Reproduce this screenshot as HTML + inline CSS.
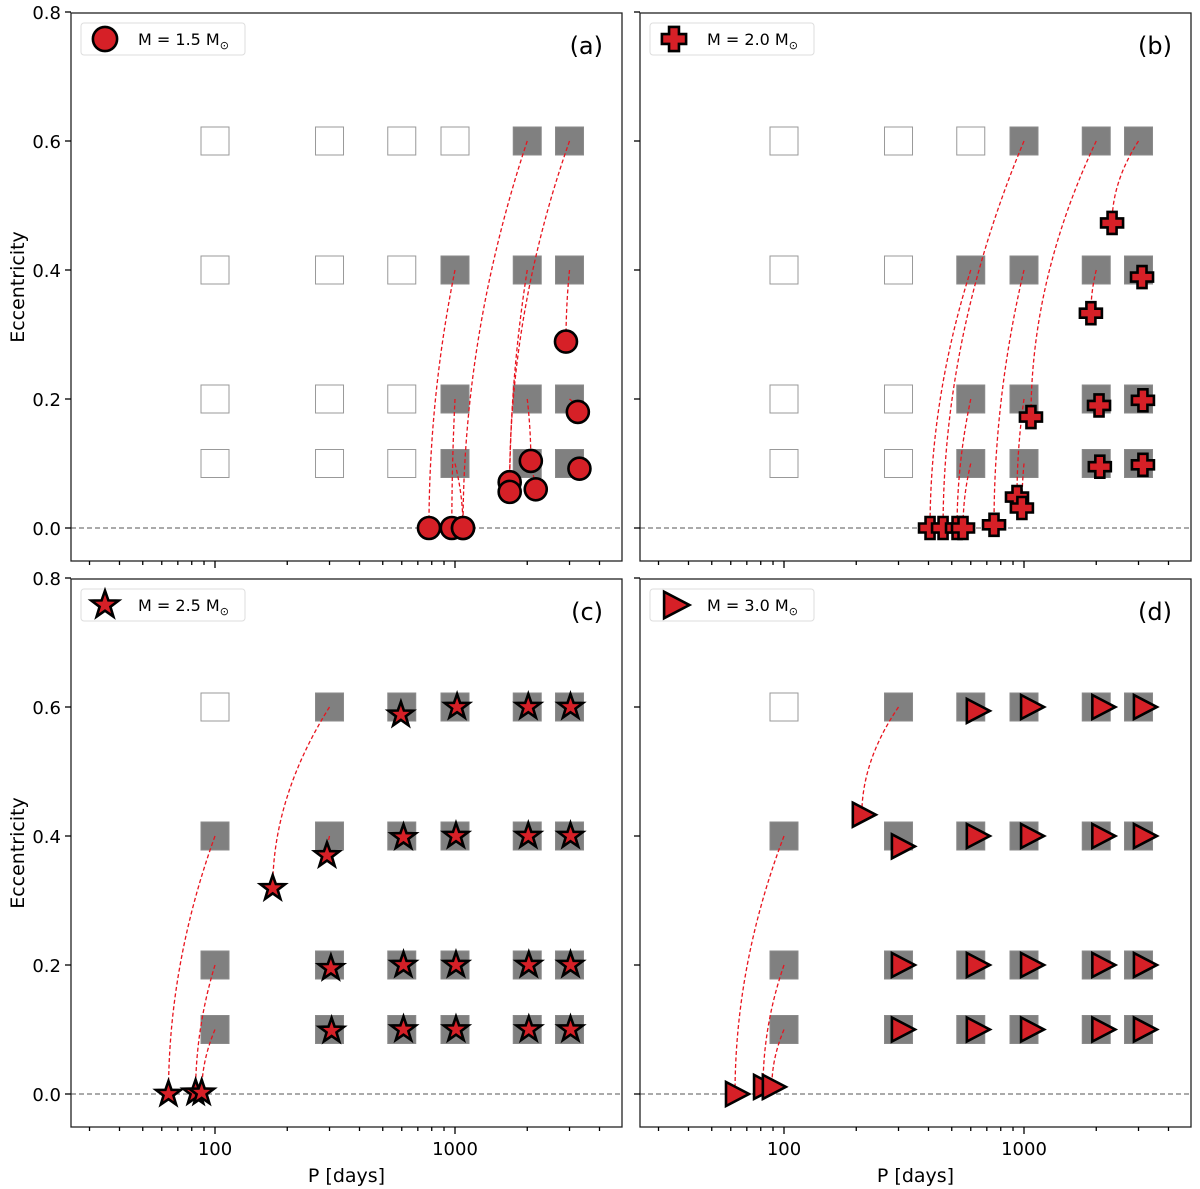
<!DOCTYPE html>
<html><head><meta charset="utf-8"><style>
body{margin:0;background:#fff}
svg{display:block;font-family:"DejaVu Sans","Liberation Sans",sans-serif}
</style></head><body>
<svg id="fig" width="1200" height="1189" viewBox="0 0 1200 1189" xmlns="http://www.w3.org/2000/svg"></svg>
<script>
// grid
const gridP=[100,300,600,1000,2000,3000];
const gridE=[0.1,0.2,0.4,0.6];
// filled grid squares per panel: "P,e"
const filledA=["2000,0.6","3000,0.6","1000,0.4","2000,0.4","3000,0.4","1000,0.2","2000,0.2","3000,0.2","1000,0.1","2000,0.1","3000,0.1"];
const filledB=["1000,0.6","2000,0.6","3000,0.6","600,0.4","1000,0.4","2000,0.4","3000,0.4","600,0.2","1000,0.2","2000,0.2","3000,0.2","600,0.1","1000,0.1","2000,0.1","3000,0.1"];
const filledC=["300,0.6","600,0.6","1000,0.6","2000,0.6","3000,0.6","100,0.4","300,0.4","600,0.4","1000,0.4","2000,0.4","3000,0.4","100,0.2","300,0.2","600,0.2","1000,0.2","2000,0.2","3000,0.2","100,0.1","300,0.1","600,0.1","1000,0.1","2000,0.1","3000,0.1"];
const filledD=filledC.slice();
// panel a (1.5 Msun)
const startPA=[1000,1000,1000,2000,3000,2000,3000,2000,2000,3000,3000];
const startEA=[0.4,0.2,0.1,0.6,0.6,0.4,0.4,0.2,0.1,0.2,0.1];
const finPA=[779,970,1080,1080,1690,1690,2900,2070,2170,3250,3300];
const finEA=[0,0,0,0,0.071,0.056,0.289,0.104,0.060,0.180,0.092];
// panel b (2.0 Msun)
const startPB=[600,1000,600,600,1000,1000,1000,2000,2000,2000,2000,3000,3000,3000,3000];
const startEB=[0.4,0.6,0.2,0.1,0.4,0.2,0.1,0.6,0.4,0.2,0.1,0.6,0.4,0.2,0.1];
const finPB=[406,460,526,557,750,935,980,1069,1900,2054,2070,2328,3103,3130,3130];
const finEB=[0,0,0,0,0.005,0.048,0.031,0.172,0.333,0.19,0.095,0.473,0.389,0.198,0.098];
// panel c (2.5 Msun)
const startPC=[100,100,100,300,300,300,300,600,600,600,600,1000,1000,1000,1000,2000,2000,2000,2000,3000,3000,3000,3000];
const startEC=[0.4,0.2,0.1,0.6,0.4,0.2,0.1,0.6,0.4,0.2,0.1,0.6,0.4,0.2,0.1,0.6,0.4,0.2,0.1,0.6,0.4,0.2,0.1];
const finPC=[64,83,88,174,293,304,306,595,610,610,610,1020,1010,1010,1010,2020,2020,2030,2030,3030,3030,3030,3030];
const finEC=[0,0.002,0.002,0.319,0.37,0.195,0.098,0.588,0.398,0.2,0.1,0.6,0.4,0.2,0.1,0.6,0.4,0.2,0.1,0.6,0.4,0.2,0.1];
// panel d (3.0 Msun)
const startPD=startPC.slice();
const startED=startEC.slice();
const finPD=[62.5,81.8,89,211,307,307,307,630,630,630,630,1060,1060,1060,1060,2100,2100,2100,2100,3130,3130,3130,3130];
const finED=[0,0.011,0.011,0.433,0.384,0.2,0.1,0.594,0.4,0.2,0.1,0.6,0.4,0.2,0.1,0.6,0.4,0.2,0.1,0.6,0.4,0.2,0.1];
const yTicks=[0,0.2,0.4,0.6,0.8];
const xTickLabels=[100,1000];

const NS="http://www.w3.org/2000/svg";
const svg=document.getElementById('fig');
function mk(tag,attrs,parent){const e=document.createElementNS(NS,tag);for(const k in attrs)e.setAttribute(k,attrs[k]);(parent||svg).appendChild(e);return e;}
const W=551,H=548;
const panels=[
 {id:'a',L:71,T:13,mass:'1.5',marker:'circle',filled:filledA,sp:startPA,se:startEA,fp:finPA,fe:finEA,ylab:true,xlab:false},
 {id:'b',L:640,T:13,mass:'2.0',marker:'plus',filled:filledB,sp:startPB,se:startEB,fp:finPB,fe:finEB,ylab:false,xlab:false},
 {id:'c',L:71,T:579,mass:'2.5',marker:'star',filled:filledC,sp:startPC,se:startEC,fp:finPC,fe:finEC,ylab:true,xlab:true},
 {id:'d',L:640,T:579,mass:'3.0',marker:'tri',filled:filledD,sp:startPD,se:startED,fp:finPD,fe:finED,ylab:false,xlab:true}
];
function marker(type,x,y,g,s){
 s=s||1;let e;
 const st={fill:'#d62027',stroke:'#000','stroke-width':2.6,'stroke-linejoin':'miter'};
 if(type==='circle'){e=mk('circle',Object.assign({cx:x,cy:y,r:11*s},st),g);}
 else if(type==='plus'){const a=4.5*s,b=11*s;
  e=mk('path',Object.assign({d:`M${x-a},${y-b}H${x+a}V${y-a}H${x+b}V${y+a}H${x+a}V${y+b}H${x-a}V${y+a}H${x-b}V${y-a}H${x-a}Z`},st),g);}
 else if(type==='star'){let d='';for(let i=0;i<10;i++){const r=(i%2?5.2:13)*s,ang=-Math.PI/2+i*Math.PI/5;d+=(i?'L':'M')+(x+r*Math.cos(ang)).toFixed(1)+','+(y+r*Math.sin(ang)).toFixed(1);}
  e=mk('path',Object.assign({d:d+'Z'},st),g);}
 else {e=mk('path',Object.assign({d:`M${x-9*s},${y-12*s}L${x+14*s},${y}L${x-9*s},${y+12*s}Z`},st),g);}
 return e;
}
panels.forEach(p=>{
 const g=mk('g',{});
 
 
 const X=P=>p.L+144+(Math.log10(P)-2)*240;
 const Y=e=>p.T+515-e*645;
 gridE.forEach(e=>gridP.forEach(P=>{
  const f=p.filled.includes(P+','+e);
  const r=mk('rect',{x:X(P)-14,y:Y(e)-14,width:28,height:28,fill:f?'#808080':'#fff',stroke:f?'#8a8a8a':'#999','stroke-width':1},g);
  
  
 }));
 const zl=mk('line',{x1:p.L,x2:p.L+W,y1:Y(0),y2:Y(0),stroke:'#777','stroke-width':1.2,'stroke-dasharray':'5,3'},g);
 
 
 p.sp.forEach((P,i)=>{
  const x0=X(P),y0=Y(p.se[i]),x1=X(p.fp[i]),y1=Y(p.fe[i]);
  if(Math.hypot(x1-x0,y1-y0)<12)return;
  const cx=x1,cy=(y0+y1)/2;
  const c=mk('path',{d:`M${x0},${y0}Q${cx},${cy} ${x1},${y1}`,fill:'none',stroke:'#e8141e','stroke-width':1.3,'stroke-dasharray':'4,2.5'},g);
  
  
 });
 p.fp.forEach((P,i)=>{
  const m=marker(p.marker,X(P),Y(p.fe[i]),g);
  
  
 });
 const fr=mk('rect',{x:p.L,y:p.T,width:W,height:H,fill:'none',stroke:'#222','stroke-width':1.3},g);
 
 
 yTicks.forEach(v=>{
  mk('line',{x1:p.L-6,x2:p.L,y1:Y(v),y2:Y(v),stroke:'#000','stroke-width':1.3},g);
  if(p.ylab){const t=mk('text',{x:p.L-10,y:Y(v)+7,'text-anchor':'end','font-size':18,fill:'#000'},g);t.textContent=v.toFixed(1);
   
   }
 });
 for(let dec=10;dec<=1000;dec*=10)for(let k=1;k<10;k++){const P=dec*k;const x=X(P);
  if(x<p.L||x>p.L+W)continue;const major=(k===1);
  mk('line',{x1:x,x2:x,y1:p.T+H,y2:p.T+H+(major?7:4),stroke:'#000','stroke-width':1.3},g);}
 if(p.xlab){xTickLabels.forEach(v=>{const t=mk('text',{x:X(v),y:p.T+H+28,'text-anchor':'middle','font-size':18},g);t.textContent=v;
   
   });
  const xl=mk('text',{x:p.L+W/2,y:p.T+H+55,'text-anchor':'middle','font-size':19},g);xl.textContent='P [days]';
  
  }
 if(p.ylab){const yl=mk('text',{x:0,y:0,'text-anchor':'middle','font-size':19,transform:`translate(24,${p.T+H/2}) rotate(-90)`},g);yl.textContent='Eccentricity';
  
  }
 const lg=mk('g',{},g);
 
 
 mk('rect',{x:p.L+10,y:p.T+10,width:164,height:32,rx:3,fill:'#fff',stroke:'#ddd','stroke-width':1},lg);
 marker(p.marker,p.L+34,p.T+26,lg,1.1);
 const lt=mk('text',{x:p.L+67,y:p.T+32,'font-size':16},lg);
 lt.appendChild(document.createTextNode('M = '+p.mass+' M'));
 const sub=mk('tspan',{'font-size':11,dy:4},lt);sub.textContent='⊙';
 const pl=mk('text',{x:p.L+W-19,y:p.T+41,'text-anchor':'end','font-size':24},g);pl.textContent='('+p.id+')';
 
 
});
</script>
</body></html>
